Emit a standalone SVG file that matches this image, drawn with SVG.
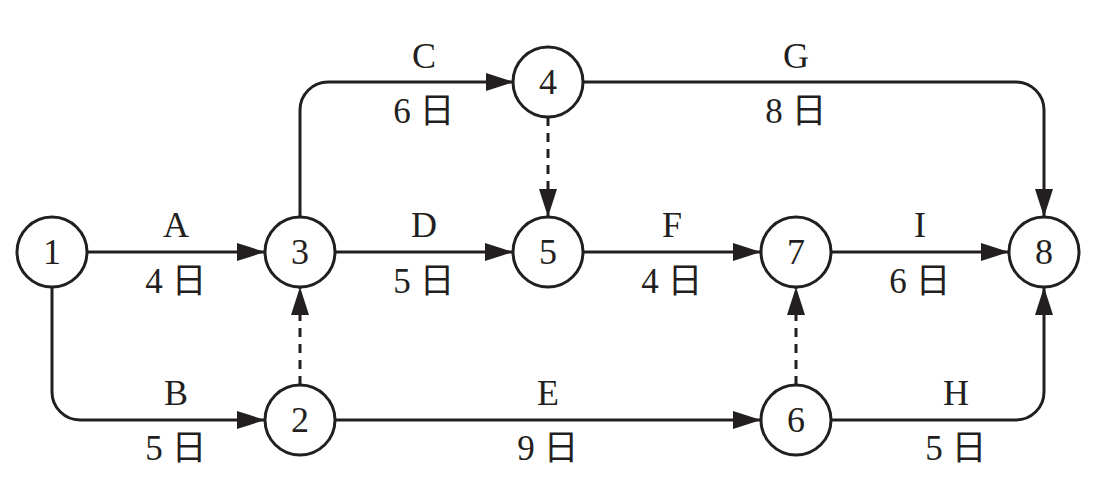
<svg xmlns="http://www.w3.org/2000/svg" width="1105" height="495" viewBox="0 0 1105 495">
<style>
.n circle{fill:#fff;stroke:#231f20;stroke-width:3}
text{font-family:"Liberation Serif","Noto Sans CJK SC",serif;font-size:36px;fill:#231f20;text-anchor:middle}
text.t{font-size:35px}
.e path{fill:none;stroke:#231f20;stroke-width:3}
.e path.d{stroke-dasharray:9 7}
</style>
<defs>
<marker id="ah" markerUnits="userSpaceOnUse" markerWidth="28" markerHeight="18" refX="28" refY="9" orient="auto">
<path d="M0,0 L28,9 L0,18 z" fill="#231f20"/>
</marker>
</defs>
<rect width="1105" height="495" fill="#fff"/>
<g id="connectors" class="e">
<path d="M87,252 H265" marker-end="url(#ah)"/>
<path d="M335,252 H513" marker-end="url(#ah)"/>
<path d="M583,252 H761" marker-end="url(#ah)"/>
<path d="M831,252 H1009" marker-end="url(#ah)"/>
<path d="M52,287 V392 A28,28 0 0 0 80,420 H265" marker-end="url(#ah)"/>
<path d="M335,420 H761" marker-end="url(#ah)"/>
<path d="M300,217 V110 A28,28 0 0 1 328,82 H514" marker-end="url(#ah)"/>
<path d="M583,82 H1016 A28,28 0 0 1 1044,110 V217" marker-end="url(#ah)"/>
<path d="M831,420 H1016 A28,28 0 0 0 1044,392 V287" marker-end="url(#ah)"/>
<path class="d" d="M548,117 V217" marker-end="url(#ah)"/>
<path class="d" d="M300,385 V287" marker-end="url(#ah)"/>
<path class="d" d="M796,385 V287" marker-end="url(#ah)"/>
</g>
<g id="labels">
<text x="176" y="237">A</text><text class="t" x="176" y="293">4 日</text>
<text x="424" y="237">D</text><text class="t" x="424" y="293">5 日</text>
<text x="672" y="237">F</text><text class="t" x="672" y="293">4 日</text>
<text x="920" y="237">I</text><text class="t" x="920" y="293">6 日</text>
<text x="176" y="405">B</text><text class="t" x="176" y="460">5 日</text>
<text x="548" y="405">E</text><text class="t" x="548" y="460">9 日</text>
<text x="956" y="405">H</text><text class="t" x="956" y="460">5 日</text>
<text x="424" y="68">C</text><text class="t" x="424" y="123">6 日</text>
<text x="796" y="68">G</text><text class="t" x="796" y="123">8 日</text>
</g>
<g id="node1" class="n"><circle cx="52" cy="252" r="35"/><text x="52" y="264">1</text></g>
<g id="node2" class="n"><circle cx="300" cy="420" r="35"/><text x="300" y="432">2</text></g>
<g id="node3" class="n"><circle cx="300" cy="252" r="35"/><text x="300" y="264">3</text></g>
<g id="node4" class="n"><circle cx="548" cy="82" r="35"/><text x="548" y="94">4</text></g>
<g id="node5" class="n"><circle cx="548" cy="252" r="35"/><text x="548" y="264">5</text></g>
<g id="node6" class="n"><circle cx="796" cy="420" r="35"/><text x="796" y="432">6</text></g>
<g id="node7" class="n"><circle cx="796" cy="252" r="35"/><text x="796" y="264">7</text></g>
<g id="node8" class="n"><circle cx="1044" cy="252" r="35"/><text x="1044" y="264">8</text></g>
</svg>
